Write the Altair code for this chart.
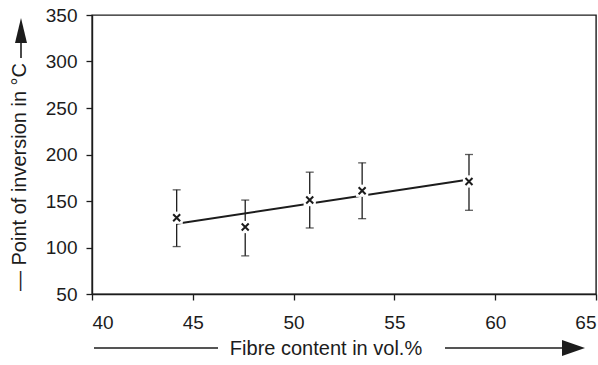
import altair as alt
import pandas as pd

# Data
fibre = [44.2, 47.6, 50.8, 53.4, 58.7]
inversion = [132, 122, 151, 161, 171]
err_low = [101, 91, 121, 131, 140]
err_high = [162, 151, 181, 191, 200]
trend_x = [44.2, 58.7]
trend_y = [125.5, 173]
x_ticks = [40, 45, 50, 55, 60, 65]
y_ticks = [50, 100, 150, 200, 250, 300, 350]

df = pd.DataFrame({"x": fibre, "y": inversion, "lo": err_low, "hi": err_high})
trend = pd.DataFrame({"x": trend_x, "y": trend_y})
one = pd.DataFrame({"a": [0]})

INK = "#1c1c1c"
FONT = "Liberation Sans"

xs = alt.Scale(domain=[40, 65], nice=False)
ys = alt.Scale(domain=[50, 350], nice=False)

xax = alt.Axis(values=x_ticks, title=None, grid=False, tickSize=6, labelPadding=13,
               labelFontSize=19, labelFont=FONT, labelColor=INK, domainColor=INK,
               tickColor=INK, domainWidth=1.4, tickWidth=1.3, labelFlush=True)
yax = alt.Axis(values=y_ticks, title=None, grid=False, tickSize=6, labelPadding=9,
               labelFontSize=19, labelFont=FONT, labelColor=INK, domainColor=INK,
               tickColor=INK, domainWidth=1.4, tickWidth=1.3)

line = alt.Chart(trend).mark_line(color=INK, strokeWidth=2).encode(
    x=alt.X("x:Q", scale=xs, axis=xax),
    y=alt.Y("y:Q", scale=ys, axis=yax),
)

bars = alt.Chart(df).mark_errorbar(ticks={"size": 8, "color": INK, "thickness": 1.3},
                                   rule={"color": INK, "strokeWidth": 1.3}).encode(
    x=alt.X("x:Q", scale=xs),
    y=alt.Y("lo:Q", scale=ys),
    y2="hi:Q",
)

gaps = alt.Chart(df).mark_point(shape="square", filled=True, color="white", opacity=1,
                                size=150).encode(
    x=alt.X("x:Q", scale=xs), y=alt.Y("y:Q", scale=ys))

marks = alt.Chart(df).mark_point(shape="M-1,-1L1,1M-1,1L1,-1", filled=False, color=INK,
                                 strokeWidth=2, size=49, opacity=1).encode(
    x=alt.X("x:Q", scale=xs), y=alt.Y("y:Q", scale=ys))

# y title with arrow
ytitle = alt.Chart(one).mark_text(angle=270, align="center", baseline="alphabetic",
                                  font=FONT, fontSize=20, color=INK).encode(
    x=alt.value(-66), y=alt.value(162), text=alt.value("— Point of inversion in °C"))
yline = alt.Chart(one).mark_rule(color=INK, strokeWidth=1.6).encode(
    x=alt.value(-71), y=alt.value(26), y2=alt.value(43))
yhead = alt.Chart(one).mark_point(shape="M0,-1L0.48,1L-0.48,1Z", filled=True, color=INK,
                                  opacity=1, size=625).encode(
    x=alt.value(-71), y=alt.value(15.5))

# x title with arrow
xtitle = alt.Chart(one).mark_text(align="center", baseline="alphabetic", font=FONT,
                                  fontSize=20, color=INK).encode(
    x=alt.value(234), y=alt.value(340), text=alt.value("Fibre content in vol.%"))
xline1 = alt.Chart(one).mark_rule(color=INK, strokeWidth=1.6).encode(
    x=alt.value(2), x2=alt.value(126), y=alt.value(333))
xline2 = alt.Chart(one).mark_rule(color=INK, strokeWidth=1.6).encode(
    x=alt.value(353), x2=alt.value(472), y=alt.value(333))
xhead = alt.Chart(one).mark_point(shape="M1,0L-1,-0.7L-1,0.7Z", filled=True, color=INK,
                                  opacity=1, size=529).encode(
    x=alt.value(481.5), y=alt.value(333))

chart = alt.layer(line, bars, gaps, marks, ytitle, yline, yhead,
                  xtitle, xline1, xline2, xhead).properties(
    width=504, height=279,
    autosize=alt.AutoSizeParams(type="none"),
    padding={"left": 92, "top": 15, "right": 2, "bottom": 71},
    background="white",
).configure_view(stroke=INK, strokeWidth=1.4)

chart.save("out.html", embed_options={"renderer": "svg", "actions": False})
